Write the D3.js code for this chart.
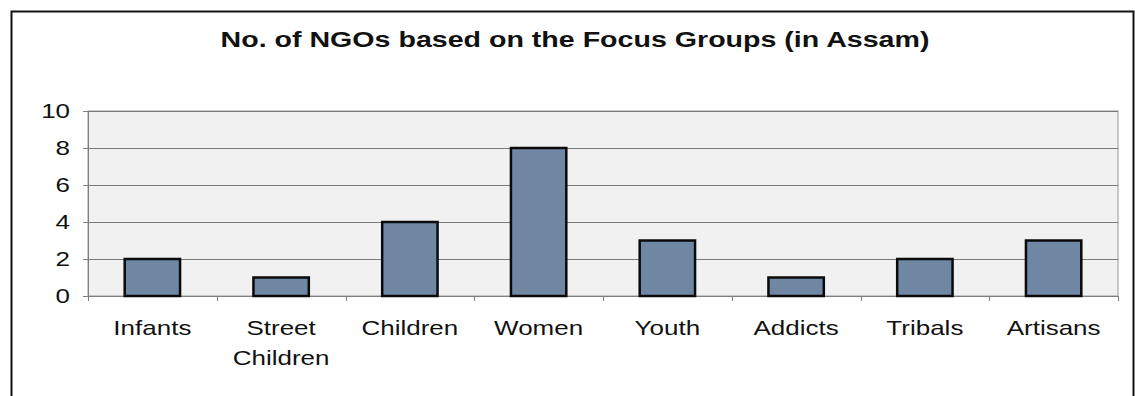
<!DOCTYPE html>
<html>
<head>
<meta charset="utf-8">
<script src="https://cdn.jsdelivr.net/npm/d3@7"></script>
<style>
  body { margin: 0; background: #fff; }
  text { font-family: "Liberation Sans", Arial, sans-serif; fill: #111; }
</style>
</head>
<body>
<script>
//chart values
var categories = ["Infants", "Street Children", "Children", "Women", "Youth", "Addicts", "Tribals", "Artisans"];
var labelLines = [["Infants"], ["Street", "Children"], ["Children"], ["Women"], ["Youth"], ["Addicts"], ["Tribals"], ["Artisans"]];
var values = [2, 1, 4, 8, 3, 1, 2, 3];
var yTicks = [0, 2, 4, 6, 8, 10];
var title = "No. of NGOs based on the Focus Groups (in Assam)";

var w = 1135;
var h = 396;
var plot = { left: 88, right: 1118, top: 111, bottom: 296 };
var stretch = 1.3; //the scanned text is wider than it is tall

var svg = d3.select("body")
  .append("svg")
  .attr("width", w)
  .attr("height", h);

//outer frame
svg.append("path")
  .attr("d", "M11.5," + h + "V11.5H1133.5V" + h)
  .attr("fill", "none")
  .attr("stroke", "#111")
  .attr("stroke-width", 2);

//title
svg.append("text")
  .attr("transform", "translate(575,47) scale(" + stretch + ",1)")
  .attr("text-anchor", "middle")
  .attr("font-size", "22px")
  .attr("font-weight", "bold")
  .text(title);

var xScale = d3.scaleBand()
  .domain(categories)
  .range([plot.left, plot.right])
  .paddingInner(0.57)
  .paddingOuter(0.285);

var band = d3.scaleBand()
  .domain(categories)
  .range([plot.left, plot.right]);

var yScale = d3.scaleLinear()
  .domain([0, 10])
  .range([plot.bottom, plot.top]);

//plot background
svg.append("rect")
  .attr("x", plot.left)
  .attr("y", plot.top)
  .attr("width", plot.right - plot.left)
  .attr("height", plot.bottom - plot.top)
  .attr("fill", "#f1f1f1")
  .attr("stroke", "#9a9a9a")
  .attr("stroke-width", 1);

//gridlines
svg.selectAll("line.grid")
  .data(yTicks)
  .enter()
  .append("line")
  .attr("class", "grid")
  .attr("x1", plot.left)
  .attr("x2", plot.right)
  .attr("y1", function(d) { return Math.round(yScale(d)) + 0.5; })
  .attr("y2", function(d) { return Math.round(yScale(d)) + 0.5; })
  .attr("stroke", "#7a7a7a")
  .attr("stroke-width", 1);

//y axis
var yAxis = d3.axisLeft(yScale)
  .tickValues(yTicks)
  .tickSize(5)
  .tickPadding(8.8);

svg.append("g")
  .attr("transform", "translate(" + plot.left + ",0)")
  .call(yAxis)
  .call(function(g) {
    g.select(".domain").attr("stroke", "#808080");
    g.selectAll(".tick line").attr("stroke", "#808080");
    g.selectAll(".tick text")
      .attr("font-size", "20px")
      .attr("font-family", "Liberation Sans, Arial, sans-serif")
      .attr("fill", "#111")
      .attr("transform", "scale(" + stretch + ",1)");
  });

//x axis line
var xAxis = d3.axisBottom(band)
  .tickSize(0)
  .tickFormat("");

svg.append("g")
  .attr("transform", "translate(0," + plot.bottom + ")")
  .call(xAxis)
  .call(function(g) {
    g.select(".domain").attr("stroke", "#808080");
  });

//tick marks at category boundaries
svg.selectAll("line.xtick")
  .data(categories.concat(["end"]))
  .enter()
  .append("line")
  .attr("class", "xtick")
  .attr("x1", function(d, i) { return Math.round(plot.left + i * band.bandwidth()) + 0.5; })
  .attr("x2", function(d, i) { return Math.round(plot.left + i * band.bandwidth()) + 0.5; })
  .attr("y1", plot.bottom)
  .attr("y2", plot.bottom + 5)
  .attr("stroke", "#808080");

//bars
svg.selectAll("rect.bar")
  .data(values)
  .enter()
  .append("rect")
  .attr("class", "bar")
  .attr("x", function(d, i) { return xScale(categories[i]); })
  .attr("y", function(d) { return yScale(d); })
  .attr("width", xScale.bandwidth())
  .attr("height", function(d) { return plot.bottom - yScale(d); })
  .attr("fill", "#6f87a3")
  .attr("stroke", "#0a0a0a")
  .attr("stroke-width", 2.5);

//category labels
var labels = svg.selectAll("text.cat")
  .data(labelLines)
  .enter()
  .append("text")
  .attr("class", "cat")
  .attr("text-anchor", "middle")
  .attr("font-size", "20px")
  .attr("transform", function(d, i) {
    return "translate(" + (band(categories[i]) + band.bandwidth() / 2) + ",335) scale(" + stretch + ",1)";
  });

labels.selectAll("tspan")
  .data(function(d) { return d; })
  .enter()
  .append("tspan")
  .attr("x", 0)
  .attr("dy", function(d, j) { return j === 0 ? 0 : 30; })
  .text(function(d) { return d; });
</script>
</body>
</html>
